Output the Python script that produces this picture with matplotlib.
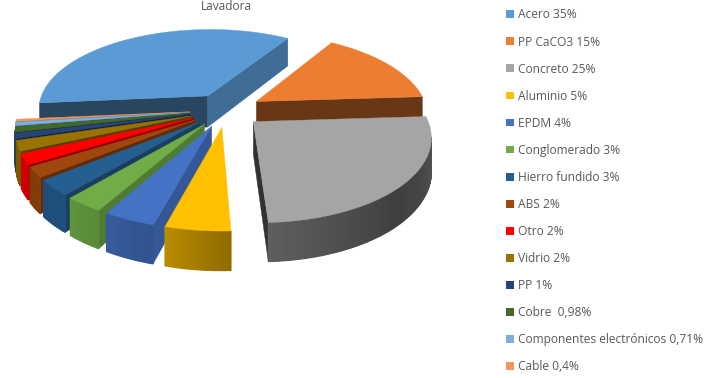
import numpy as np
import matplotlib
matplotlib.use("Agg")
import matplotlib.pyplot as plt
from matplotlib.patches import Patch
from matplotlib.colors import to_rgb

title = "Lavadora"
materials = ["Acero", "PP CaCO3", "Concreto", "Aluminio", "EPDM", "Conglomerado", "Hierro fundido",
             "ABS", "Otro", "Vidrio", "PP", "Cobre ", "Componentes electrónicos", "Cable"]
values = [35, 15, 25, 5, 4, 3, 3, 2, 2, 2, 1, 0.98, 0.71, 0.4]
value_labels = ["35%", "15%", "25%", "5%", "4%", "3%", "3%", "2%", "2%", "2%", "1%", "0,98%", "0,71%", "0,4%"]
colors = ["#5B9BD5", "#ED7D31", "#A5A5A5", "#FFC000", "#4472C4", "#70AD47", "#255E91",
          "#9E480E", "#FF0000", "#997300", "#264478", "#43682B", "#7CAFDD", "#F1975A"]

W, H = 722, 378
CX, CY, RX, RY = 226, 110, 171, 81
PERSP, DEPTH, EXPLODE = 0.158, 32, 0.21
FIRST_EDGE = 58.0  # angle where the first slice ends, going clockwise


def project(x, y, z):
    """x right, y toward viewer, z = 0 top, 1 bottom of the slab."""
    s = 1 / (1 - PERSP * y)
    return CX + RX * x * s, CY + (RY * y + DEPTH * z) * s


def shade(c, f):
    return tuple(min(1, v * f) for v in to_rgb(c))


def cut_light(normal_deg):
    a = (normal_deg + 180) % 360 - 180
    if a > 0:
        a = -a
    return np.interp(a, [-180, -120, -90, -50, -20, 0], [0.30, 0.36, 0.42, 0.62, 0.76, 0.8])


def arc_light(a):
    return np.interp(a, [-180, -160, -130, -105, -90, -45, 0, 60],
                     [0.82, 0.80, 0.85, 0.72, 0.58, 0.38, 0.52, 0.6])


def area(px, py):
    return 0.5 * np.sum(px * np.roll(py, -1) - np.roll(px, -1) * py)


fig = plt.figure(figsize=(W / 100, H / 100), dpi=100)
ax = fig.add_axes([0, 0, 1, 1])
ax.set_xlim(0, W)
ax.set_ylim(H, 0)
ax.axis("off")

spans = np.array(values) / np.sum(values) * 360
slices = []
a0 = FIRST_EDGE + spans[0]
for i, sp in enumerate(spans):
    slices.append((i, a0 - sp, a0))
    a0 -= sp
order = sorted(slices, key=lambda s: -np.sin(np.radians((s[1] + s[2]) / 2)))


def face(px, py, col, z, lw=0.3):
    ax.fill(px, py, facecolor=col, edgecolor=col, lw=lw, zorder=z)


for k, (i, lo, hi) in enumerate(order):
    mid = np.radians((lo + hi) / 2)
    ox, oy = EXPLODE * np.cos(mid), -EXPLODE * np.sin(mid)
    base = 10 + k * 3
    theta = np.arange(lo, hi, 1.0)
    theta = np.append(theta, hi)
    ux = ox + np.cos(np.radians(theta))
    uy = oy - np.sin(np.radians(theta))
    # cut faces
    for edge, sign, n in ((hi, 1, hi + 90), (lo, -1, lo - 90)):
        ex, ey = ox + np.cos(np.radians(edge)), oy - np.sin(np.radians(edge))
        p = [project(ox, oy, 0), project(ex, ey, 0), project(ex, ey, 1), project(ox, oy, 1)]
        px, py = np.array(p).T
        if area(px, py) * sign > 0:
            continue
        face(px, py, shade(colors[i], cut_light(n)), base)
    # outer wall
    for j in range(len(theta) - 1):
        p = [project(ux[j], uy[j], 0), project(ux[j + 1], uy[j + 1], 0),
             project(ux[j + 1], uy[j + 1], 1), project(ux[j], uy[j], 1)]
        px, py = np.array(p).T
        if area(px, py) < 0:
            continue
        face(px, py, shade(colors[i], arc_light((theta[j] + 180) % 360 - 180)), base + 1, lw=0.9)
    # top
    tx, ty = project(np.r_[ox, ux], np.r_[oy, uy], 0)
    face(tx, ty, colors[i], base + 2)

ax.text(226, 6, title, ha="center", va="center", fontsize=8.6, color="#595959", family="Open Sans")

handles = [Patch(facecolor=c, edgecolor="none") for c in colors]
labels = [f"{m} {v}" for m, v in zip(materials, value_labels)]
ax.legend(handles, labels, loc="upper left", bbox_to_anchor=(506 / W, 1 - 8.5 / H), frameon=False,
          prop={"family": "Open Sans", "size": 8.65}, labelcolor="#595959",
          handlelength=0.66, handleheight=0.62, handletextpad=0.33, labelspacing=1.17,
          borderpad=0, borderaxespad=0)

fig.savefig("out.png", dpi=100)
